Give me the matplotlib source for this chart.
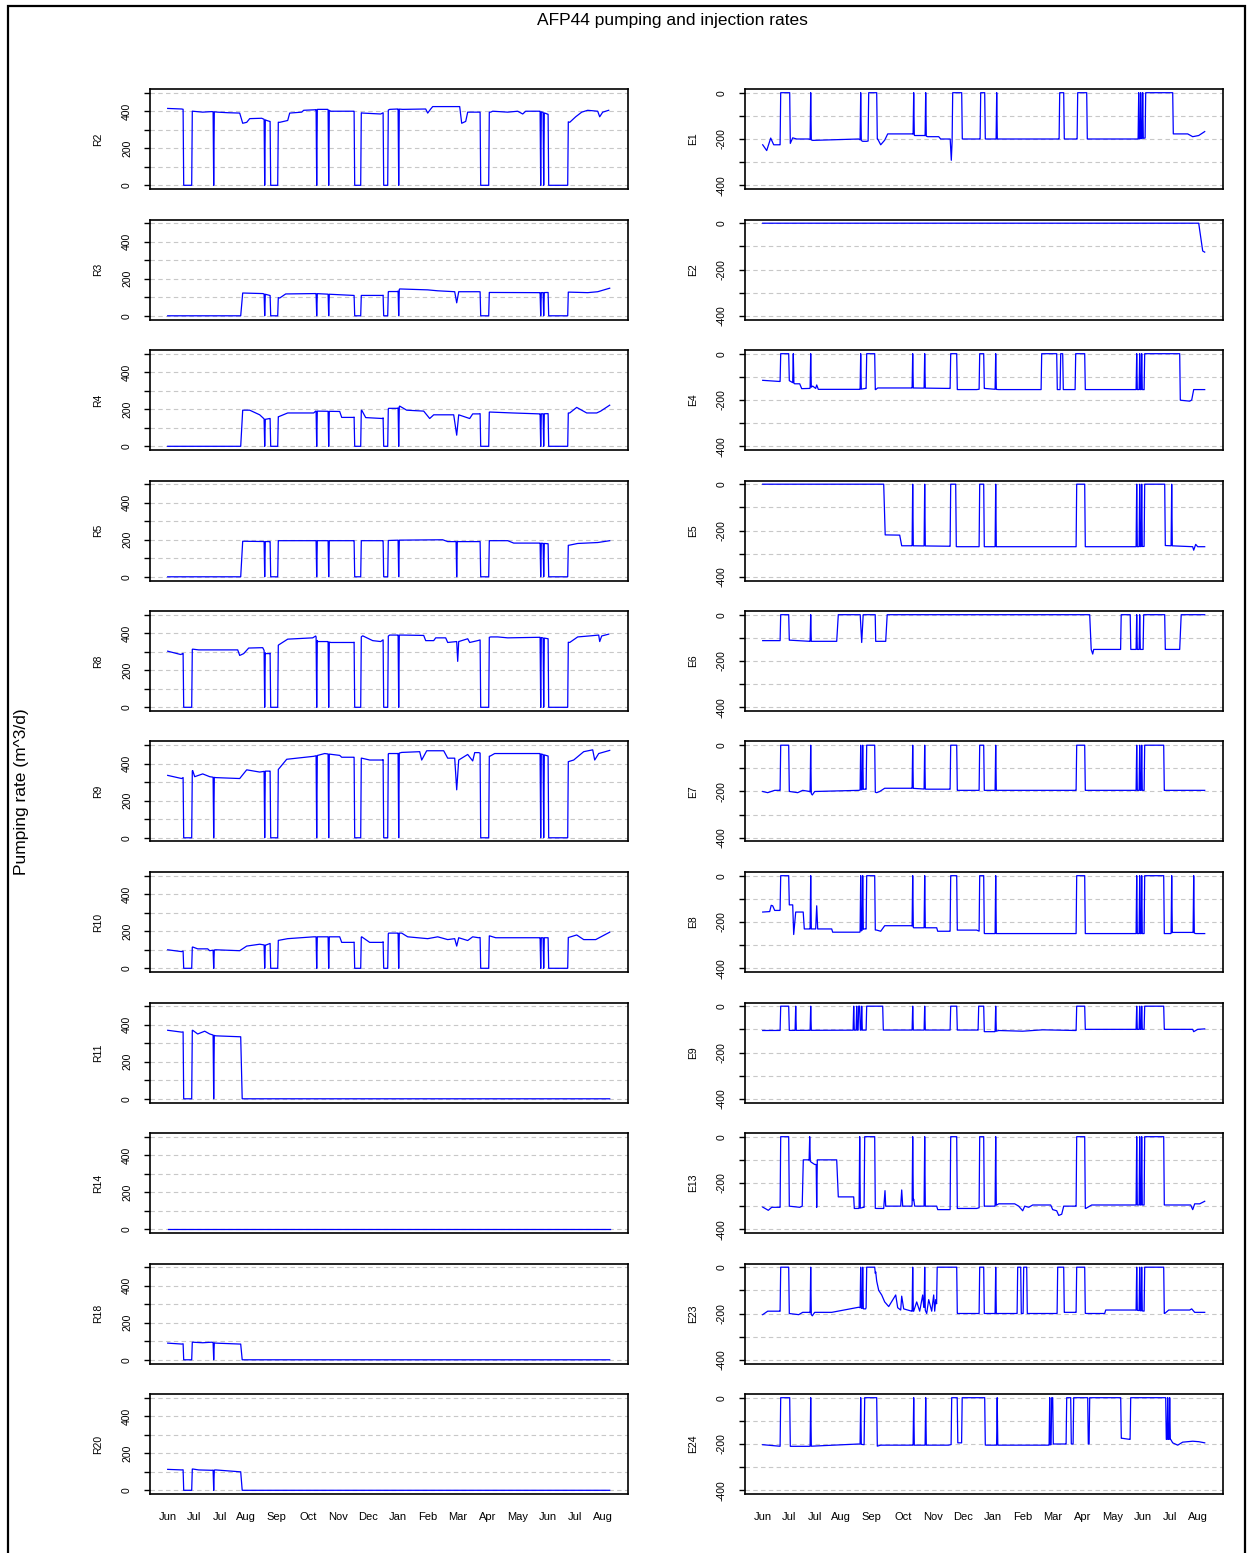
import numpy as np
import matplotlib.pyplot as plt
from matplotlib.patches import Rectangle

plt.rcParams['font.family'] = ['Liberation Sans', 'DejaVu Sans']

# x axis = days since start of record (early June)
month_days = [0, 26, 52, 78, 109, 140, 170, 200, 230, 260, 290, 320, 350, 380, 407, 435]
month_labels = ["Jun", "Jul", "Jul", "Aug", "Sep", "Oct", "Nov", "Dec", "Jan",
                "Feb", "Mar", "Apr", "May", "Jun", "Jul", "Aug"]

# ---- pumping wells (m3/d): (day, rate) knots + shutdown windows (start, end) ----
stops_R = [(16, 24), (46, 46), (97, 97), (103, 110), (149, 149), (161, 161), (187, 193),
           (216, 220), (231, 231), (313, 321), (373, 373), (376, 376), (381, 400)]
stops_R_noB = [s for s in stops_R if s != (46, 46)]
stops_R_late = stops_R[2:]
stops_R_early = stops_R[:2]

R2_rate = [(0, 415), (14, 412), (25, 400), (35, 395), (44, 398), (50, 395), (60, 392), (72, 390),
           (75, 335), (79, 340), (82, 360), (94, 362), (99, 350), (102, 345), (112, 340), (120, 350),
           (122, 390), (134, 395), (136, 405), (148, 408), (150, 410), (160, 410), (163, 400),
           (186, 400), (195, 390), (213, 385), (222, 410), (230, 412), (235, 410), (258, 412),
           (260, 390), (263, 412), (265, 425), (292, 425), (294, 335), (298, 345), (300, 395),
           (311, 395), (323, 395), (325, 400), (340, 395), (350, 400), (355, 385), (358, 400),
           (372, 400), (402, 340), (408, 370), (414, 395), (420, 405), (430, 400), (432, 370),
           (435, 395), (441, 405)]
R3_rate = [(0, 0), (73, 0), (75, 123), (95, 120), (112, 96), (118, 118), (148, 120), (186, 110),
           (215, 110), (221, 131), (230, 131), (232, 145), (260, 140), (270, 135), (287, 130),
           (289, 70), (291, 130), (311, 130), (322, 126), (372, 125), (400, 128), (420, 125),
           (430, 130), (442, 149)]
R4_rate = [(0, 0), (73, 0), (75, 195), (82, 195), (92, 170), (97, 145), (102, 150), (111, 160),
           (120, 180), (146, 180), (148, 190), (172, 188), (174, 156), (186, 156), (194, 195),
           (198, 155), (215, 150), (221, 205), (230, 205), (232, 217), (239, 195), (256, 190),
           (262, 150), (266, 170), (286, 170), (289, 60), (291, 170), (302, 150), (305, 175),
           (311, 175), (322, 185), (345, 180), (372, 175), (402, 180), (409, 210), (419, 180),
           (429, 180), (433, 190), (442, 222)]
R5_rate = [(0, 0), (73, 0), (75, 192), (102, 190), (111, 195), (146, 195), (186, 195), (215, 195),
           (232, 198), (275, 200), (280, 190), (311, 190), (322, 195), (340, 195), (346, 182),
           (372, 182), (401, 170), (410, 180), (430, 185), (442, 195)]
R8_rate = [(0, 303), (13, 285), (15, 290), (25, 314), (31, 310), (70, 310), (72, 280), (76, 290),
           (81, 320), (95, 322), (98, 290), (102, 290), (111, 337), (120, 368), (145, 375),
           (148, 385), (150, 355), (160, 355), (163, 350), (186, 350), (195, 386), (205, 360),
           (213, 355), (222, 390), (230, 390), (235, 390), (256, 388), (258, 360), (266, 360),
           (268, 375), (278, 375), (280, 350), (289, 355), (290, 248), (291, 355), (300, 370),
           (302, 350), (310, 360), (323, 380), (330, 380), (340, 375), (372, 378), (402, 350),
           (410, 380), (421, 385), (431, 390), (432, 355), (434, 385), (441, 395)]
R9_rate = [(0, 337), (14, 320), (25, 363), (27, 330), (35, 345), (42, 330), (48, 325), (72, 320),
           (79, 367), (92, 355), (98, 360), (102, 360), (110, 365), (119, 424), (146, 440),
           (150, 445), (157, 455), (172, 445), (174, 435), (186, 435), (194, 430), (202, 420),
           (215, 420), (221, 455), (230, 455), (234, 461), (252, 465), (254, 420), (259, 470),
           (276, 470), (280, 430), (287, 430), (289, 259), (291, 420), (300, 450), (305, 415),
           (307, 460), (311, 460), (322, 440), (327, 455), (372, 455), (400, 410), (406, 420),
           (416, 465), (425, 475), (427, 420), (431, 455), (442, 472)]
R10_rate = [(0, 100), (14, 90), (25, 115), (30, 105), (40, 105), (42, 95), (48, 100), (72, 95),
            (79, 120), (92, 130), (98, 125), (110, 150), (120, 160), (146, 170), (172, 170),
            (174, 140), (186, 140), (194, 170), (202, 140), (215, 140), (221, 190), (230, 190),
            (234, 190), (240, 170), (260, 160), (270, 170), (280, 155), (287, 160), (289, 120),
            (291, 165), (300, 150), (305, 170), (311, 165), (322, 175), (328, 165), (372, 165),
            (400, 165), (409, 180), (416, 155), (428, 155), (442, 195)]
R11_rate = [(0, 370), (14, 360), (25, 370), (30, 350), (37, 365), (42, 350), (48, 340), (72, 335),
            (73, 335), (74.5, 0), (442, 0)]
R14_rate = [(0, 0), (442, 0)]
R18_rate = [(0, 90), (14, 85), (25, 95), (35, 92), (44, 95), (48, 90), (72, 85), (73, 85),
            (74.5, 0), (442, 0)]
R20_rate = [(0, 113), (14, 110), (25, 115), (31, 110), (44, 108), (48, 110), (60, 105), (72, 100),
            (73, 100), (74.5, 0), (442, 0)]

# ---- injection wells (m3/d, negative) ----
stops_E = [(18, 26), (48, 48), (98, 98), (100, 100), (104, 112), (150, 150), (162, 162),
           (188, 194), (217, 221), (233, 233), (314, 322), (374, 374), (377, 377), (379, 379),
           (382, 401)]

E1_rate = [(0, -225), (4, -250), (8, -196), (11, -225), (17, -225), (27, -225), (30, -195),
           (34, -200), (46, -200), (50, -206), (96, -200), (100, -210), (104, -210), (115, -200),
           (118, -225), (122, -205), (125, -178), (150, -178), (152, -185), (162, -185),
           (165, -190), (176, -190), (178, -200), (187.5, -200), (188.6, -292), (189.5, -200),
           (200, -200), (217, -200), (223, -200), (296, -200), (302, -200), (314, -200),
           (325, -200), (376, -200), (409, -178), (425, -178), (430, -190), (436, -185), (442, -168)]
E1_stops = [(18, 27), (48, 48), (98, 98), (106, 114), (151, 151), (163, 163), (190, 199),
            (218, 222), (234, 234), (297, 301), (315, 324), (376, 376), (378, 378), (380, 380),
            (383, 410)]
E2_rate = [(0, 0), (436, 0), (439, -90), (440, -120), (442, -125)]
E4_rate = [(0, -115), (17, -120), (26, -115), (32, -130), (37, -130), (39, -151), (47, -150),
           (50, -140), (53, -150), (54, -135), (55.6, -154), (97, -154), (103, -150), (113, -155),
           (115, -148), (149, -148), (187, -150), (195, -155), (214, -155), (222, -150),
           (236, -155), (277, -155), (323, -155), (381, -155), (418, -201), (427, -205),
           (429, -200), (431, -155), (442, -155)]
E4_stops = [(18, 26), (30.6, 30.6), (48, 48), (98, 98), (104, 112), (150, 150), (162, 162),
            (188, 194), (217, 221), (233, 233), (279, 294), (298, 300), (313, 322), (374, 374),
            (377, 377), (379, 379), (382, 417)]
E5_rate = [(0, 0), (121, 0), (122.5, -219), (137, -220), (139, -266), (149, -266), (187, -268),
           (195, -270), (313, -270), (324, -270), (374, -270), (403, -265), (430, -270),
           (431, -285), (433, -260), (435, -270), (442, -270)]
E5_stops = [(150, 150), (162, 162), (188, 193), (217, 221), (233, 233), (314, 322), (374, 374),
            (377, 377), (379, 379), (382, 402), (409, 409)]
E6_rate = [(0, -112), (17, -112), (27, -110), (47, -115), (74, -115), (75.6, 0), (97.5, 0),
           (99, -120), (100.5, 0), (112.5, 0), (113, -115), (123, -115), (124.5, 0), (327, 0),
           (328.5, -150), (330, -170), (331, -150), (357, -150), (368, -150), (372, -150),
           (403, -150), (417, -150), (418.5, 0), (442, 0)]
E6_stops = [(18, 26), (48, 48), (358.5, 367.5), (374, 374), (377, 377), (381, 402)]
E7_rate = [(0, -200), (5, -205), (12, -195), (17, -195), (27, -200), (35, -205), (40, -195),
           (47, -200), (49.6, -215), (52, -200), (96, -195), (101, -190), (103, -190), (114, -205),
           (117, -200), (122, -186), (149, -186), (164, -190), (187, -190), (195, -195),
           (313, -195), (323, -195), (372, -195), (402, -195), (442, -195)]
E8_rate = [(0, -157), (7, -155), (8.5, -128), (10, -130), (12, -150), (17, -150), (26.5, -126),
           (30, -126), (31, -254), (33, -157), (40.5, -157), (41.6, -230), (47, -230), (53, -230),
           (54, -130), (55, -230), (69, -230), (70, -244), (97, -244), (101, -230), (103, -230),
           (114, -235), (118, -240), (122, -216), (149, -216), (151, -225), (174, -225),
           (175, -240), (187, -240), (195, -235), (214, -235), (222, -250), (372, -250),
           (402, -250), (408, -250), (410, -245), (430, -245), (433, -250), (442, -250)]
E8_stops = stops_E + [(409, 409), (431, 431)]
E9_rate = [(0, -105), (121, -103), (215, -103), (222, -110), (232, -110), (236, -105),
           (260, -108), (280, -102), (313, -105), (324, -100), (402, -100), (430, -100),
           (431, -110), (435, -100), (442, -98)]
E9_stops = [(18, 26), (33, 33), (48, 48), (91, 91), (94, 94), (96, 97), (99, 99), (104, 120),
            (150, 150), (162, 162), (188, 194), (216, 221), (233, 233), (314, 322), (374, 374),
            (377, 377), (379, 379), (382, 401)]
E13_rate = [(0, -304), (5.6, -318), (9, -305), (17, -305), (26.3, -300), (37, -305), (39.5, -300),
            (40.6, -100), (46, -100), (48.5, -110), (52, -120), (53.5, -120), (54, -305),
            (54.6, -100), (74, -100), (75.6, -260), (91, -260), (91.6, -310), (96, -310),
            (101, -305), (114, -310), (121, -310), (122.3, -233), (123, -300), (138, -300),
            (139, -230), (140, -300), (149, -300), (151, -270), (152, -300), (174, -300),
            (175, -315), (187, -315), (195, -310), (214, -310), (222, -300), (232, -300),
            (236, -290), (252, -290), (256, -300), (260, -320), (262, -300), (266, -305),
            (270, -295), (288, -295), (290, -315), (294, -320), (296, -340), (299, -335),
            (301, -300), (313, -300), (323, -310), (329, -295), (372, -295), (402, -295),
            (428, -295), (430, -315), (432, -290), (437, -290), (442, -279)]
E13_stops = [(18, 26), (47, 47), (97, 97), (102, 112), (150, 150), (162, 162), (188, 194),
             (217, 221), (233, 233), (314, 322), (374, 374), (377, 377), (379, 379), (382, 401)]
E23_rate = [(0, -205), (5, -190), (17, -190), (26.3, -200), (36, -205), (40, -195), (47, -195),
            (49.6, -210), (52, -195), (69, -195), (96, -173), (101, -180), (103, -180),
            (113, -20), (114, -60), (116, -100), (119, -120), (122, -150), (126, -170),
            (133, -120), (135, -175), (138, -185), (139, -125), (141, -180), (149, -190),
            (151, -190), (154, -150), (157, -190), (160, -120), (161, -170), (164, -200),
            (166, -140), (169, -190), (171, -120), (172, -190), (173, -140), (174, -160),
            (195, -200), (254, -200), (259.5, -200), (266, -200), (294, -200), (302, -195),
            (313, -195), (324, -200), (342, -200), (343, -185), (372, -185), (402, -200),
            (406, -185), (427, -185), (429, -180), (432, -195), (442, -195)]
E23_stops = [(18, 26), (48, 48), (98, 98), (100, 100), (104, 112), (150, 150), (162, 162),
             (174.5, 194), (217, 221), (233, 233), (255, 258), (261, 264), (295, 301),
             (314, 322), (374, 374), (377, 377), (379, 379), (382, 401)]
E24_rate = [(0, -203), (18, -210), (27, -210), (46, -210), (96, -200), (114, -210), (118, -205),
            (150, -205), (186, -205), (195, -195), (199, -195), (224, -205), (286, -205),
            (291, -200), (303, -200), (326, -200), (359, -175), (367, -180), (408, -180),
            (410, -195), (415, -205), (420, -192), (430, -188), (436, -190), (442, -195)]
E24_stops = [(18, 27), (48, 48), (98, 98), (102, 114), (151, 151), (163, 163), (189, 194.5),
             (199.5, 222), (234.5, 234.5), (287, 287), (289, 290), (304, 308), (311, 325),
             (327, 358), (368, 403), (405, 405), (407, 407)]

left_wells = [("R2", R2_rate, stops_R), ("R3", R3_rate, stops_R_late),
              ("R4", R4_rate, stops_R_late), ("R5", R5_rate, stops_R_late + [(289, 289)]),
              ("R8", R8_rate, stops_R_noB), ("R9", R9_rate, stops_R), ("R10", R10_rate, stops_R),
              ("R11", R11_rate, stops_R_early), ("R14", R14_rate, []),
              ("R18", R18_rate, stops_R_early), ("R20", R20_rate, stops_R_early)]
right_wells = [("E1", E1_rate, E1_stops), ("E2", E2_rate, []), ("E4", E4_rate, E4_stops),
               ("E5", E5_rate, E5_stops), ("E6", E6_rate, E6_stops), ("E7", E7_rate, stops_E),
               ("E8", E8_rate, E8_stops), ("E9", E9_rate, E9_stops), ("E13", E13_rate, E13_stops),
               ("E23", E23_rate, E23_stops), ("E24", E24_rate, E24_stops)]

RAMP = 0.6


def trace(levels, stops):
    # splice the shutdown windows (rate drops to zero) into the knot line
    d = np.array([p[0] for p in levels], float)
    v = np.array([p[1] for p in levels], float)
    keep = np.ones(len(d), bool)
    extra = []
    for s, e in stops:
        keep &= ~((d > s - RAMP) & (d < e + RAMP))
        extra += [(s - RAMP, np.interp(s - RAMP, d, v)), (s, 0.0)]
        if e > s:
            extra.append((e, 0.0))
        extra.append((e + RAMP, np.interp(e + RAMP, d, v)))
    pts = sorted(list(zip(d[keep], v[keep])) + extra)
    return [p[0] for p in pts], [p[1] for p in pts]


W, H = 1251, 1553
fig = plt.figure(figsize=(W / 100, H / 100), dpi=100)

for col, (wells, x0) in enumerate([(left_wells, 150), (right_wells, 745)]):
    for i, (name, rate, stops) in enumerate(wells):
        top = 89 + 130.5 * i
        ax = fig.add_axes([x0 / W, 1 - (top + 100) / H, 478 / W, 100 / H])
        x, y = trace(rate, stops)
        ax.plot(x, y, color='#0000ff', lw=0.9)
        ax.set_xlim(-17.7, 460.3)
        if col == 0:
            ax.set_ylim(-20, 520)
            ax.set_yticks(range(0, 501, 100), ['0', '', '200', '', '400', ''])
        else:
            ax.set_ylim(-416, 16)
            ax.set_yticks(range(-400, 1, 100), ['-400', '', '-200', '', '0'])
        ax.grid(axis='y', color='#c8c8c8', linestyle=(0, (4, 3)), lw=0.8)
        ax.set_axisbelow(True)
        ax.tick_params(axis='y', length=4, width=1, pad=9, labelsize=7.5, labelrotation=90)
        for lab in ax.get_yticklabels():
            lab.set_va('center')
        ax.set_xticks(month_days)
        if i == len(wells) - 1:
            ax.set_xticklabels(month_labels)
        else:
            ax.set_xticklabels([])
        ax.tick_params(axis='x', length=0, pad=13, labelsize=8)
        for sp in ax.spines.values():
            sp.set_linewidth(1.2)
        ax.text(-0.109, 0.5, name, rotation=90, ha='center', va='center',
                fontsize=7.5, transform=ax.transAxes)

fig.text(672 / W, 1 - 20 / H, "AFP44 pumping and injection rates", ha='center', va='center',
         fontsize=12.5)
fig.text(22 / W, 1 - 792 / H, "Pumping rate (m^3/d)", rotation=90, ha='center', va='center',
         fontsize=12.5)
fig.add_artist(Rectangle((8 / W, -0.01), 1237 / W, 1 - 6 / H + 0.01, transform=fig.transFigure,
                         fill=False, lw=1.6, ec='black'))

fig.savefig('out.png', dpi=100)
